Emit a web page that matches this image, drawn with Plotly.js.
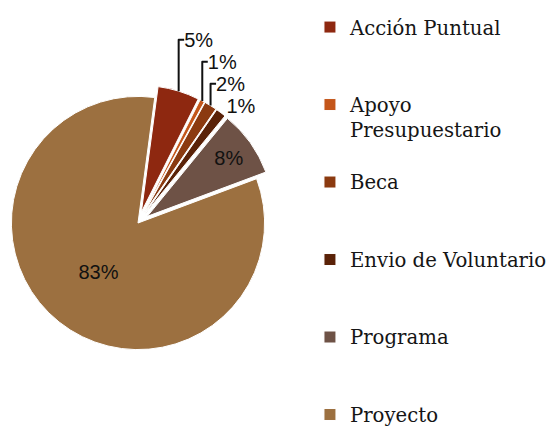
<!DOCTYPE html>
<html>
<head>
<meta charset="utf-8">
<script src="https://cdn.plot.ly/plotly-3.0.1.min.js"></script>
<style>html,body{margin:0;padding:0;background:#fff;}#chart{width:549px;height:428px;}</style>
</head>
<body>
<div id="chart"></div>
<script>
// Categories (legend labels, with the line break used in the reference legend)
const categories = ['Acción Puntual', 'Apoyo<br>Presupuestario', 'Beca', 'Envio de Voluntario', 'Programa', 'Proyecto'];
// Share of each category (percent)
const shares = [5.3, 0.6, 1.6, 1.3, 8.4, 82.8];
const colors = ['#8e2810', '#c4561a', '#8b3a10', '#5a2208', '#6e5246', '#9c7040'];
const pulls = [0.09, 0.09, 0.09, 0.09, 0.09, 0];
const positions = ['outside', 'outside', 'outside', 'outside', 'inside', 'inside'];

// pad every legend entry (except the last) to three lines so entries sit on an even grid
const legendLabels = categories.map((c, i) => {
  const lines = c.split('<br>');
  if (i < categories.length - 1) {
    while (lines.length < 3) lines.push(' ');
  }
  return lines.map(l => '<span style="font-size:19.7px">' + l + '</span>').join('<br>');
});

const trace = {
  type: 'pie',
  labels: legendLabels,
  values: shares,
  sort: false,
  direction: 'clockwise',
  rotation: 7.6,
  pull: pulls,
  marker: {colors: colors, line: {color: '#ffffff', width: 1}},
  texttemplate: '%{percent:.0%}',
  textposition: positions,
  insidetextorientation: 'horizontal',
  textfont: {family: 'Liberation Sans, Arial, sans-serif', size: 20, color: '#111111'},
  hoverinfo: 'percent',
  domain: {x: [0, 276 / 549], y: [67 / 428, 343 / 428]}
};

const layout = {
  width: 549,
  height: 428,
  margin: {l: 0, r: 0, t: 0, b: 0, autoexpand: false},
  paper_bgcolor: '#ffffff',
  showlegend: true,
  legend: {
    x: 0.5646, xanchor: 'left',
    y: 0.981, yanchor: 'top',
    valign: 'top',
    font: {family: 'DejaVu Serif, serif', size: 19.1, color: '#151515'},
    bgcolor: 'rgba(0,0,0,0)'
  }
};

Plotly.newPlot('chart', [trace], layout, {displayModeBar: false, staticPlot: true});
</script>
</body>
</html>
